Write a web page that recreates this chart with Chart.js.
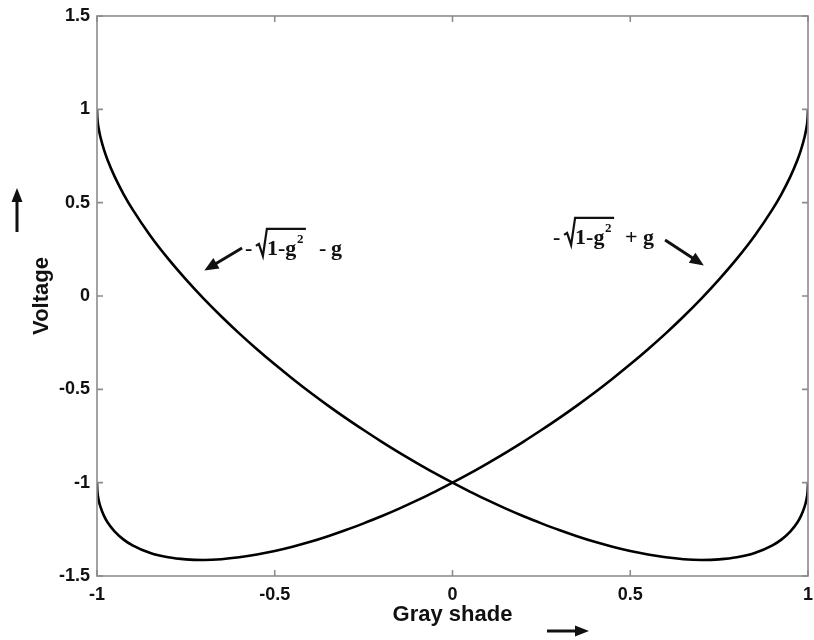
<!DOCTYPE html>
<html lang="en">
<head>
<meta charset="UTF-8">
<title>Voltage vs gray shade</title>
<script src="https://cdn.jsdelivr.net/npm/chart.js"></script>
<style>
  html, body { margin: 0; padding: 0; background: #fff; }
  #wrap { width: 814px; height: 640px; }
</style>
</head>
<body>
<div id="wrap"><canvas id="voltChart"></canvas></div>
<script>
// gray shade samples, denser near the ends where the curves go steep
const grayShade = [-1, -0.999, -0.995, -0.99, -0.98, -0.97, -0.95, -0.925, -0.9, -0.85, -0.8, -0.75, -0.7, -0.65, -0.6,
                   -0.55, -0.5, -0.45, -0.4, -0.35, -0.3, -0.25, -0.2, -0.15, -0.1, -0.05, 0,
                   0.05, 0.1, 0.15, 0.2, 0.25, 0.3, 0.35, 0.4, 0.45, 0.5, 0.55, 0.6, 0.65, 0.7, 0.75, 0.8,
                   0.85, 0.9, 0.925, 0.95, 0.97, 0.98, 0.99, 0.995, 0.999, 1];
// curve  - sqrt(1-g^2) - g
const voltMinus = [1, 0.954, 0.895, 0.849, 0.781, 0.727, 0.638, 0.545, 0.464, 0.323, 0.200, 0.089, -0.014, -0.110, -0.200,
                   -0.285, -0.366, -0.443, -0.517, -0.587, -0.654, -0.718, -0.780, -0.839, -0.895, -0.949, -1,
                   -1.049, -1.095, -1.139, -1.180, -1.218, -1.254, -1.287, -1.317, -1.343, -1.366, -1.385, -1.400,
                   -1.410, -1.414, -1.411, -1.400, -1.377, -1.336, -1.305, -1.262, -1.213, -1.179, -1.131, -1.095, -1.044, -1];
// curve  - sqrt(1-g^2) + g
const voltPlus = [-1, -1.044, -1.095, -1.131, -1.179, -1.213, -1.262, -1.305, -1.336, -1.377, -1.400, -1.411, -1.414, -1.410, -1.400,
                  -1.385, -1.366, -1.343, -1.317, -1.287, -1.254, -1.218, -1.180, -1.139, -1.095, -1.049, -1,
                  -0.949, -0.895, -0.839, -0.780, -0.718, -0.654, -0.587, -0.517, -0.443, -0.366, -0.285, -0.200,
                  -0.110, -0.014, 0.089, 0.200, 0.323, 0.464, 0.545, 0.638, 0.727, 0.781, 0.849, 0.895, 0.954, 1];
const xTicks = [-1, -0.5, 0, 0.5, 1];
const yTicks = [-1.5, -1, -0.5, 0, 0.5, 1, 1.5];

const pts = ys => grayShade.map((g, i) => ({ x: g, y: ys[i] }));

// formula labels with arrows, placed in data units
const notes = [
  { op: '-', x: -0.584, y: 0.220, from: [-0.592, 0.257], to: [-0.698, 0.137] },
  { op: '+', x: 0.283, y: 0.279, from: [0.598, 0.300], to: [0.707, 0.164] }
];

function arrow(ctx, x1, y1, x2, y2, lw, head, half) {
  const a = Math.atan2(y2 - y1, x2 - x1);
  ctx.lineWidth = lw;
  ctx.beginPath();
  ctx.moveTo(x1, y1);
  ctx.lineTo(x2 - Math.cos(a) * head * 0.8, y2 - Math.sin(a) * head * 0.8);
  ctx.stroke();
  ctx.beginPath();
  ctx.moveTo(x2, y2);
  ctx.lineTo(x2 - Math.cos(a) * head + Math.sin(a) * half, y2 - Math.sin(a) * head - Math.cos(a) * half);
  ctx.lineTo(x2 - Math.cos(a) * head - Math.sin(a) * half, y2 - Math.sin(a) * head + Math.cos(a) * half);
  ctx.closePath();
  ctx.fill();
}

// "- √(1-g²) ± g" with a drawn radical
function rootExpr(ctx, x, y, op) {
  const big = 'bold 22px "Liberation Serif"';
  ctx.textAlign = 'left';
  ctx.textBaseline = 'alphabetic';
  ctx.font = big;
  ctx.fillText('-', x, y);
  // radical sign + overline
  ctx.lineWidth = 2.2;
  ctx.lineJoin = 'miter';
  ctx.beginPath();
  ctx.moveTo(x + 11, y - 9);
  ctx.lineTo(x + 14, y - 11);
  ctx.lineTo(x + 18, y + 1);
  ctx.lineTo(x + 22, y - 26);
  ctx.lineTo(x + 61, y - 26);
  ctx.stroke();
  ctx.fillText('1-g', x + 22, y);
  ctx.font = 'bold 13px "Liberation Serif"';
  ctx.fillText('2', x + 52, y - 12);
  ctx.font = big;
  if (op === '+') {
    ctx.fillText('+', x + 72, y);
    ctx.fillText('g', x + 90, y);
  } else {
    ctx.fillText('-', x + 74, y);
    ctx.fillText('g', x + 86, y);
  }
}

const decor = {
  id: 'decor',
  afterDraw(chart) {
    const { ctx, chartArea: a, scales: { x, y } } = chart;
    ctx.save();
    // frame + inward ticks on all four sides
    ctx.strokeStyle = '#8c8c8c';
    ctx.lineWidth = 1.6;
    ctx.strokeRect(a.left, a.top, a.right - a.left, a.bottom - a.top);
    ctx.beginPath();
    xTicks.forEach(v => {
      const px = x.getPixelForValue(v);
      ctx.moveTo(px, a.bottom); ctx.lineTo(px, a.bottom - 6);
      ctx.moveTo(px, a.top); ctx.lineTo(px, a.top + 6);
    });
    yTicks.forEach(v => {
      const py = y.getPixelForValue(v);
      ctx.moveTo(a.left, py); ctx.lineTo(a.left + 6, py);
      ctx.moveTo(a.right, py); ctx.lineTo(a.right - 6, py);
    });
    ctx.stroke();

    ctx.fillStyle = '#111';
    ctx.strokeStyle = '#111';
    notes.forEach(n => {
      rootExpr(ctx, x.getPixelForValue(n.x), y.getPixelForValue(n.y), n.op);
      arrow(ctx, x.getPixelForValue(n.from[0]), y.getPixelForValue(n.from[1]),
                 x.getPixelForValue(n.to[0]), y.getPixelForValue(n.to[1]), 3, 14, 6);
    });

    // direction arrows next to the axis titles
    arrow(ctx, 17, 232, 17, 188, 3, 14, 5.5);
    arrow(ctx, 547, 631, 589, 631, 3, 14, 5.5);
    ctx.restore();
  }
};

const tickFont = { family: '"Liberation Sans", Arial, sans-serif', size: 18, weight: 'bold' };
const titleFont = { family: '"Liberation Sans", Arial, sans-serif', size: 22, weight: 'bold' };

new Chart(document.getElementById('voltChart'), {
  type: 'line',
  data: {
    datasets: [
      { label: '-sqrt(1-g^2) - g', data: pts(voltMinus) },
      { label: '-sqrt(1-g^2) + g', data: pts(voltPlus) }
    ]
  },
  options: {
    responsive: true,
    maintainAspectRatio: false,
    animation: false,
    layout: { padding: { left: 0, right: 6, top: 16, bottom: 0 } },
    elements: {
      line: { borderColor: '#000', borderWidth: 2.6, cubicInterpolationMode: 'monotone', fill: false },
      point: { radius: 0, hoverRadius: 0 }
    },
    plugins: { legend: { display: false }, tooltip: { enabled: false } },
    scales: {
      x: {
        type: 'linear', min: -1, max: 1,
        grid: { display: false, drawTicks: false },
        border: { display: false },
        afterBuildTicks: s => { s.ticks = xTicks.map(v => ({ value: v })); },
        afterFit: s => { s.height = 64; s.paddingLeft = 0; s.paddingRight = 0; },
        ticks: { color: '#111', font: tickFont, padding: 8, maxRotation: 0, callback: v => String(v) },
        title: { display: true, text: 'Gray shade', color: '#111', font: titleFont, padding: { top: 0, bottom: 12 } }
      },
      y: {
        type: 'linear', min: -1.5, max: 1.5,
        grid: { display: false, drawTicks: false },
        border: { display: false },
        afterBuildTicks: s => { s.ticks = yTicks.map(v => ({ value: v })); },
        afterFit: s => { s.width = 97; s.paddingTop = 0; s.paddingBottom = 0; },
        ticks: { color: '#111', font: tickFont, padding: 7, callback: v => String(v) },
        title: { display: true, text: 'Voltage', color: '#111', font: titleFont, padding: { top: 29, bottom: 0 } }
      }
    }
  },
  plugins: [decor]
});
</script>
</body>
</html>
